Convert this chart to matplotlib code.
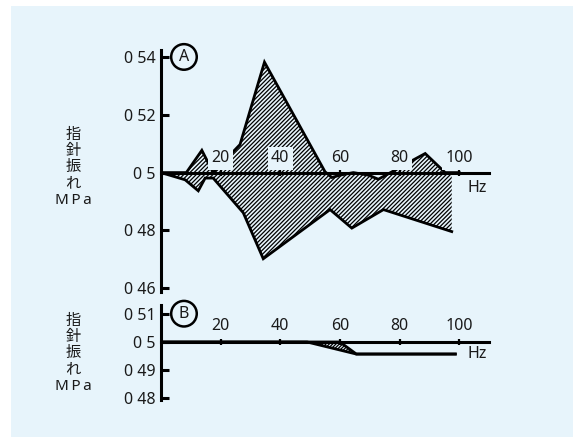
import matplotlib
matplotlib.use("Agg")
import matplotlib.pyplot as plt
from matplotlib.patches import Rectangle
import numpy as np

plt.rcParams['font.family'] = ['Noto Sans', 'Noto Sans CJK JP', 'DejaVu Sans']
plt.rcParams['hatch.linewidth'] = 0.9

BG = '#e7f4fb'
INK = '#1a1a1a'
FS = 11.5

# chart A: upper / lower envelope of the needle swing
a_upper_hz = [0, 8.5, 13.7, 17.5, 26.5, 34.7, 55.0, 57.3, 60.0, 64.5, 69.6, 72.9, 76.8, 83.6, 88.6, 95.3, 100]
a_upper_val = [0.5, 0.5, 0.5077, 0.5, 0.5097, 0.5382, 0.5003, 0.4983, 0.4991, 0.5, 0.4991, 0.4977, 0.4999, 0.5038, 0.5066, 0.5, 0.5]
a_lower_hz = [0, 8.1, 12.5, 14.8, 17.5, 27.6, 34.3, 56.7, 64.0, 74.6, 97.5]
a_lower_val = [0.5, 0.4975, 0.4937, 0.4981, 0.4981, 0.4861, 0.4702, 0.4872, 0.4808, 0.4872, 0.4796]
a_yticks = [0.46, 0.48, 0.5, 0.52, 0.54]
a_yticklabels = ['0 46', '0 48', '0 5', '0 52', '0 54']

# chart B
b_upper_hz = [0, 49, 60, 65.5, 98.7]
b_upper_val = [0.5, 0.5, 0.5, 0.4957, 0.4957]
b_lower_hz = [0, 49, 65.5, 98.7]
b_lower_val = [0.5, 0.5, 0.4957, 0.4957]
b_yticks = [0.48, 0.49, 0.5, 0.51]
b_yticklabels = ['0 48', '0 49', '0 5', '0 51']

xticks = [20, 40, 60, 80, 100]
ylabel_text = '指\n針\n振\nれ\nM\u2009P\u2009a'

W, H = 573, 437
fig = plt.figure(figsize=(W / 100, H / 100), dpi=100)
fig.patch.set_facecolor('white')
fig.patches.append(Rectangle((11 / W, 0), 1 - 11 / W, 1 - 6 / H, transform=fig.transFigure,
                             facecolor=BG, edgecolor='none', zorder=-5))


def px_axes(x0, y0, x1, y1):
    return fig.add_axes([x0 / W, 1 - y1 / H, (x1 - x0) / W, (y1 - y0) / H])


def setup(ax, ylim, yticks, yticklabels, label_off, boxed):
    ax.set_facecolor('none')
    ax.set_xlim(0, 110)
    ax.set_ylim(*ylim)
    for s in ['top', 'right']:
        ax.spines[s].set_visible(False)
    ax.spines['left'].set_linewidth(2.2)
    ax.spines['bottom'].set_position(('data', 0.5))
    ax.spines['bottom'].set_linewidth(2.2)
    ax.set_yticks(yticks)
    ax.set_yticklabels(yticklabels)
    ax.tick_params(axis='y', direction='in', length=6, width=2.2, pad=4,
                   labelsize=FS, labelcolor=INK)
    ax.set_xticks(xticks)
    ax.tick_params(axis='x', direction='inout', length=5, width=1.6, labelbottom=False)
    box = dict(boxstyle='square,pad=0.2', facecolor=BG, edgecolor='none') if boxed else None
    for t in xticks:
        ax.annotate(str(t), (t, 0.5), xytext=(0, label_off), textcoords='offset points',
                    ha='center', va='bottom', fontsize=FS, color=INK, zorder=10, bbox=box)


def envelope(ax, up_hz, up_val, lo_hz, lo_val, hatch):
    xs = np.union1d(up_hz, lo_hz)
    xs = xs[xs <= max(lo_hz)]
    up = np.interp(xs, up_hz, up_val)
    lo = np.interp(xs, lo_hz, lo_val)
    ax.fill_between(xs, up, lo, facecolor='none', edgecolor='black', hatch=hatch,
                    linewidth=0, zorder=2)
    ax.plot(up_hz, up_val, color='black', lw=2.0, zorder=3, solid_joinstyle='miter')
    ax.plot(lo_hz, lo_val, color='black', lw=2.0, zorder=3, solid_joinstyle='miter')


# ---- chart A
ax_a = px_axes(161, 50, 489, 292)
setup(ax_a, (0.4587, 0.5424), a_yticks, a_yticklabels, 4.5, True)
envelope(ax_a, a_upper_hz, a_upper_val, a_lower_hz, a_lower_val, '////////')
ax_a.text(7.7, 0.54, 'A', ha='center', va='center', fontsize=FS, color=INK,
          bbox=dict(boxstyle='circle,pad=0.3', facecolor='none', edgecolor='black', lw=1.8))
ax_a.text(106, 0.4948, 'Hz', ha='center', va='center', fontsize=FS, color=INK)

# ---- chart B
ax_b = px_axes(161, 305, 489, 400)
setup(ax_b, (0.4793, 0.5132), b_yticks, b_yticklabels, 6, False)
envelope(ax_b, b_upper_hz, b_upper_val, b_lower_hz, b_lower_val, '//////////')
ax_b.text(7.7, 0.5101, 'B', ha='center', va='center', fontsize=FS, color=INK,
          bbox=dict(boxstyle='circle,pad=0.3', facecolor='none', edgecolor='black', lw=1.8))
ax_b.text(106, 0.4957, 'Hz', ha='center', va='center', fontsize=FS, color=INK)

# vertical axis titles
fig.text(73 / W, 1 - 168 / H, ylabel_text, ha='center', va='center', fontsize=11,
         color=INK, linespacing=1.1)
fig.text(73 / W, 1 - 354 / H, ylabel_text, ha='center', va='center', fontsize=11,
         color=INK, linespacing=1.1)

fig.savefig('out.png', dpi=100, facecolor=fig.get_facecolor())
